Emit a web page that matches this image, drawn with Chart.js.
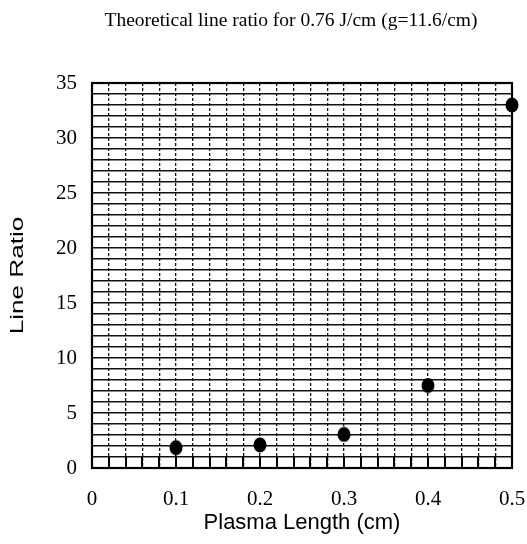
<!DOCTYPE html>
<html><head><meta charset="utf-8">
<script src="https://cdn.jsdelivr.net/npm/chart.js@4.4.0/dist/chart.umd.min.js"></script>
<style>html,body{margin:0;padding:0;background:#fff;}#wrap{width:527px;height:544px;}</style>
</head><body><div id="wrap"><canvas id="c" width="527" height="544"></canvas></div>
<script>
const chartTitle = 'Theoretical line ratio for 0.76 J/cm (g=11.6/cm)';
const xTitle = 'Plasma Length (cm)';
const yTitle = 'Line Ratio';
const plasmaLength = [0.1, 0.2, 0.3, 0.4, 0.5];
const lineRatio = [1.85, 2.1, 3.05, 7.5, 33.0];
const xTickLabels = ['0', '0.1', '0.2', '0.3', '0.4', '0.5'];
const yTickLabels = ['0', '5', '10', '15', '20', '25', '30', '35'];

// oval marker
const dot = document.createElement('canvas');
dot.width = 14; dot.height = 16;
(function () {
  const g = dot.getContext('2d');
  g.fillStyle = '#000';
  g.beginPath(); g.ellipse(7, 8, 6.5, 7.5, 0, 0, Math.PI * 2); g.fill();
})();

const framePlugin = {
  id: 'frame',
  beforeDatasetsDraw(chart) {
    const ctx = chart.ctx, a = chart.chartArea, xs = chart.scales.x;
    ctx.save();
    ctx.strokeStyle = '#000'; ctx.lineWidth = 2;
    xs.ticks.forEach(t => {
      const px = Math.round(xs.getPixelForValue(t.value));
      ctx.beginPath(); ctx.moveTo(px, a.bottom); ctx.lineTo(px, a.bottom - 11); ctx.stroke();
    });
    ctx.strokeStyle = '#000'; ctx.lineWidth = 2.2;
    ctx.strokeRect(a.left, a.top, a.right - a.left, a.bottom - a.top);
    ctx.restore();
  },
  afterDraw(chart) {
    const ctx = chart.ctx, a = chart.chartArea;
    ctx.save();
    ctx.fillStyle = '#000';
    ctx.font = '19.5px "Liberation Serif"';
    ctx.textAlign = 'center'; ctx.textBaseline = 'middle';
    ctx.fillText(chartTitle, 291, 21);
    // y axis title (stretched along its length like the scanned original)
    ctx.translate(18, (a.top + a.bottom) / 2);
    ctx.rotate(-Math.PI / 2);
    ctx.scale(1.45, 1);
    ctx.font = '18px "Liberation Sans"';
    ctx.fillText(yTitle, 0, 0);
    ctx.restore();
  }
};

new Chart(document.getElementById('c'), {
  type: 'scatter',
  data: {
    datasets: [{
      data: plasmaLength.map((x, i) => ({x: x, y: lineRatio[i]})),
      backgroundColor: '#000', borderColor: '#000',
      pointStyle: dot, pointRadius: 7, pointHoverRadius: 7, showLine: false, clip: false
    }]
  },
  options: {
    responsive: false, animation: false, devicePixelRatio: 1,
    layout: { padding: { top: 83, right: 15, left: 0, bottom: 0 } },
    plugins: { legend: { display: false }, tooltip: { enabled: false }, title: { display: false } },
    scales: {
      x: {
        type: 'linear', min: 0, max: 0.5,
        afterFit(s) { s.height = 76; s.paddingLeft = 0; s.paddingRight = 0; },
        ticks: {
          stepSize: 0.02, autoSkip: false, maxRotation: 0, padding: 19, color: '#000',
          font: { family: '"Liberation Serif"', size: 21 },
          callback: (v, i) => (i % 5 === 0 ? xTickLabels[i / 5] : '')
        },
        grid: { color: '#111', lineWidth: 1.3, drawTicks: false },
        border: { display: false, dash: [3, 2] },
        title: { display: true, text: xTitle, color: '#000', padding: 8,
                 font: { family: '"Liberation Sans"', size: 22 } }
      },
      y: {
        type: 'linear', min: 0, max: 35,
        afterFit(s) { s.width = 92; s.paddingTop = 0; s.paddingBottom = 0; },
        ticks: {
          stepSize: 1, autoSkip: false, padding: 15, color: '#000',
          font: { family: '"Liberation Serif"', size: 21 },
          callback: (v, i) => (i % 5 === 0 ? yTickLabels[i / 5] : '')
        },
        grid: { color: '#111', lineWidth: 1.6, drawTicks: false },
        border: { display: false },
        title: { display: false }
      }
    }
  },
  plugins: [framePlugin]
});
</script></body></html>
